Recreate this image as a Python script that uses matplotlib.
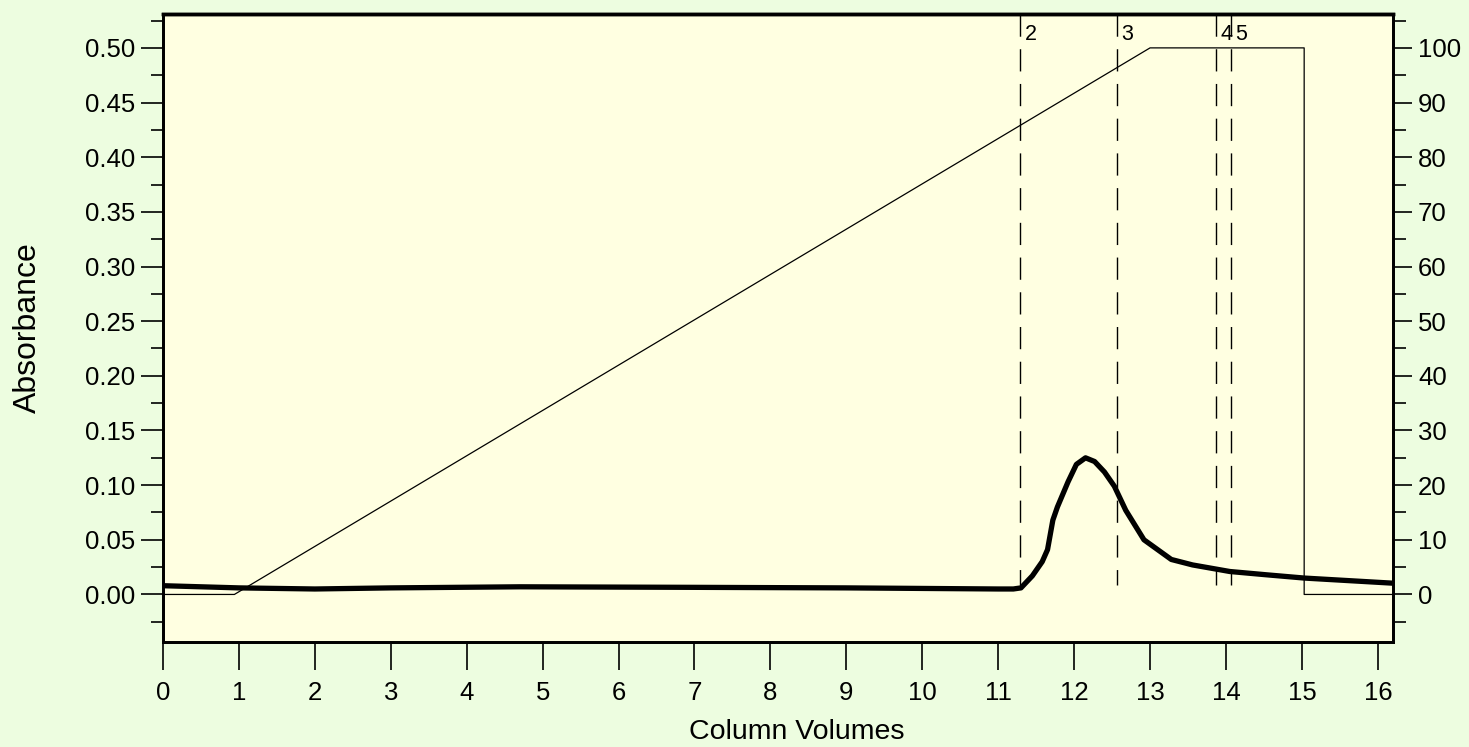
import matplotlib
matplotlib.use("Agg")
from matplotlib import pyplot as plt
from matplotlib.ticker import MultipleLocator

plt.rcParams["font.family"] = ["Liberation Sans", "DejaVu Sans"]

# UV trace (column volumes, absorbance)
ABS_X = [0, 1, 2, 3, 4.7, 7, 9, 11.0, 11.2, 11.3, 11.45, 11.58, 11.65, 11.72, 11.78,
         11.92, 12.03, 12.15, 12.27, 12.40, 12.53, 12.68, 12.92, 13.28, 13.56, 14.05,
         14.53, 15.03, 16.2]
ABS_Y = [0.008, 0.006, 0.005, 0.006, 0.007, 0.0065, 0.006, 0.005, 0.005, 0.006, 0.017,
         0.030, 0.041, 0.068, 0.080, 0.103, 0.119, 0.125, 0.1216, 0.112, 0.099, 0.077,
         0.050, 0.032, 0.027, 0.021, 0.018, 0.015, 0.0103]

# gradient (% B)
GRAD_X = [0, 0.94, 13.0, 15.03, 15.03, 16.2]
GRAD_Y = [0, 0, 100, 100, 0, 0]

# fraction marks
FRAC_X = [11.29, 12.56, 13.87, 14.06]
FRAC_LABELS = ["2", "3", "4", "5"]

XMIN, XMAX = 0, 16.2
YMIN, YMAX = -0.0435, 0.531
SCALE = 200  # right axis units per absorbance unit

FIG_BG = "#EDFDE0"
AX_BG = "#FFFFE1"


def main() -> None:
    fig = plt.figure(figsize=(14.69, 7.47), dpi=100, facecolor=FIG_BG)
    ax = fig.add_axes([163 / 1469, 1 - 642 / 747, (1393 - 163) / 1469, (642 - 14) / 747])
    ax.set_facecolor(AX_BG)

    ax.plot(ABS_X, ABS_Y, color="black", lw=3.8, solid_joinstyle="round", zorder=4)

    for fx, lab in zip(FRAC_X, FRAC_LABELS):
        ax.plot([fx, fx], [YMAX, 0.009], color="black", lw=1.0, dashes=(16, 9), zorder=3)
        ax.annotate(lab, (fx, 0.5125), xytext=(3.5, 0), textcoords="offset points",
                    ha="left", va="center", fontsize=15.5)

    ax.set_xlim(XMIN, XMAX)
    ax.set_ylim(YMIN, YMAX)
    ax.xaxis.set_major_locator(MultipleLocator(1))
    ax.yaxis.set_major_locator(MultipleLocator(0.05))
    ax.yaxis.set_minor_locator(MultipleLocator(0.025))
    ax.yaxis.set_major_formatter(lambda v, p: f"{v:.2f}")
    ax.tick_params(axis="x", direction="out", length=20, width=1.2, pad=8, labelsize=18.5)
    ax.tick_params(axis="y", which="major", direction="out", length=16, width=1.2, pad=4,
                   labelsize=18.5)
    ax.tick_params(axis="y", which="minor", direction="out", length=9, width=1.2)
    ax.set_xlabel("Column Volumes", fontsize=20.5)
    ax.xaxis.set_label_coords(0.515, -0.123)
    ax.set_ylabel("Absorbance", fontsize=23, labelpad=30)

    ax2 = ax.twinx()
    ax2.plot(GRAD_X, GRAD_Y, color="black", lw=0.9, zorder=2)
    ax2.set_ylim(YMIN * SCALE, YMAX * SCALE)
    ax2.yaxis.set_major_locator(MultipleLocator(10))
    ax2.yaxis.set_minor_locator(MultipleLocator(5))
    ax2.tick_params(axis="y", which="major", direction="out", length=14, width=1.2, pad=4,
                    labelsize=18.5)
    ax2.tick_params(axis="y", which="minor", direction="out", length=9, width=1.2)

    for a in (ax, ax2):
        for side in ("left", "right", "bottom"):
            a.spines[side].set_linewidth(2)
        a.spines["top"].set_linewidth(2.5)

    fig.savefig("out.png", dpi=100, facecolor=FIG_BG)


if __name__ == "__main__":
    main()
